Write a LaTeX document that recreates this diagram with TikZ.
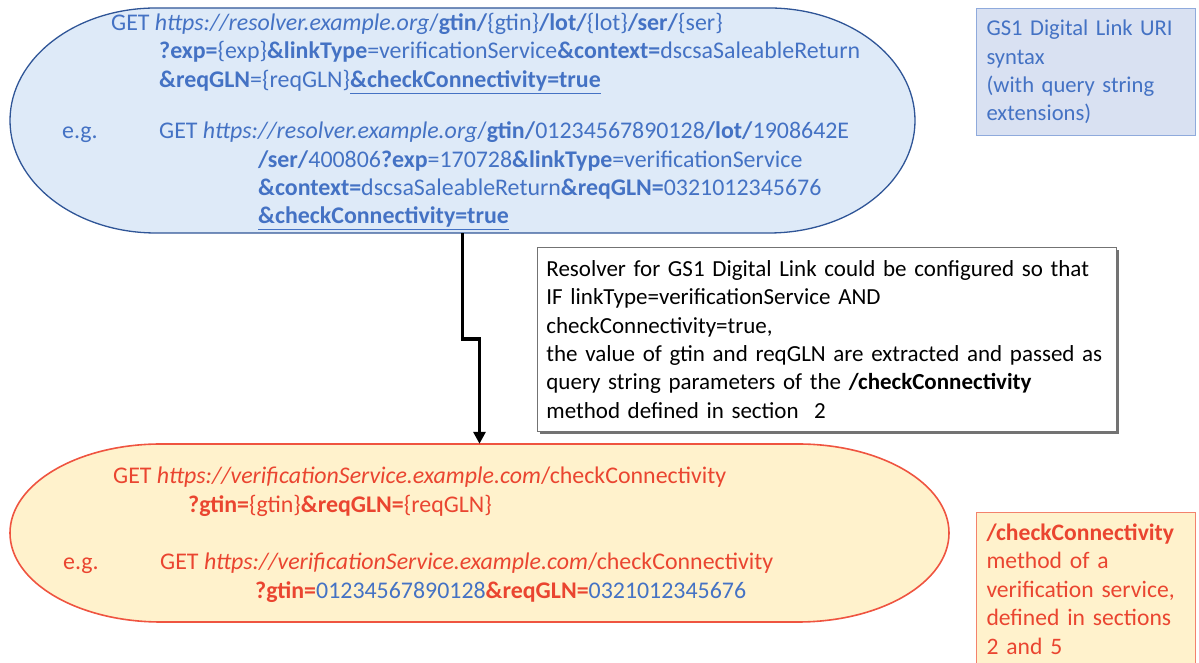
\documentclass[tikz,border=0pt]{standalone}
\usepackage{fontspec}
\setmainfont{Carlito}
\usepackage{tikz}
\usetikzlibrary{arrows.meta}
\usetikzlibrary{shadows}
\definecolor{dlblue}{HTML}{4472C4}
\definecolor{dlfill}{HTML}{DEEAF8}
\definecolor{dlframe}{HTML}{2F5597}
\definecolor{synfill}{HTML}{D9E1F2}
\definecolor{synframe}{HTML}{8FAADC}
\definecolor{svcred}{HTML}{EA4530}
\definecolor{svcfill}{HTML}{FFF2CC}
\definecolor{svcframe}{HTML}{EF5440}
\definecolor{methframe}{HTML}{F3826C}

\begin{document}
\begin{tikzpicture}[x=1pt, y=1pt, font=\fontsize{23.9}{28.4}\selectfont,
	bluecap/.style={draw=dlframe, line width=1.3pt, fill=dlfill},
	svccap/.style={draw=svcframe, line width=1.6pt, fill=svcfill},
	holder/.style={draw=none, inner sep=0pt},
	urltext/.style={anchor=base west, inner sep=0pt, text=dlblue},
	svctext/.style={anchor=base west, inner sep=0pt, text=svcred},
	notebox/.style={draw=black!55, line width=0.8pt, fill=white, align=left, anchor=north west,
		font=\fontsize{23}{28.3}\selectfont,
		drop shadow={shadow xshift=3pt, shadow yshift=-3pt, fill=black!55, opacity=1}},
	synbox/.style={draw=synframe, line width=1pt, fill=synfill, text=dlblue, align=left, anchor=north west,
		font=\fontsize{22.6}{28.4}\selectfont},
	methbox/.style={draw=methframe, line width=1pt, fill=svcfill, text=svcred, align=left, anchor=north west,
		font=\fontsize{23.6}{28.6}\selectfont},
	flowarrow/.style={line width=3.6pt, -{Triangle[length=12pt, width=12pt]}}]
				\useasboundingbox (0,0) rectangle (1199,663);
				% resolver request
				\draw[bluecap] (156,655) -- (769,655) arc[start angle=90, end angle=-90, x radius=146pt, y radius=112.5pt]
					-- (156,430) arc[start angle=270, end angle=90, x radius=146pt, y radius=112.5pt] -- cycle;
				\node[holder, minimum width=905pt, minimum height=225pt] (resolver) at (462.5,542.5) {};
				% verification service call
				\draw[svccap] (161,219) -- (798,219) arc[start angle=90, end angle=-90, x radius=151pt, y radius=89pt]
					-- (161,41) arc[start angle=270, end angle=90, x radius=151pt, y radius=89pt] -- cycle;
				\node[holder, minimum width=939pt, minimum height=178pt] (service) at (479.5,130) {};
				\draw[flowarrow] (resolver.south) -- ++(0,-106) -| (service.north);

				\node[urltext] (syn1) at (111,632) {GET \textit{https://resolver.example.org}/\textbf{gtin/}\{gtin\}\textbf{/lot/}\{lot\}\textbf{/ser/}\{ser\}};
				\node[urltext] (syn2) at (159,604) {\textbf{?exp=}\{exp\}\textbf{\&linkType}=verificationService\textbf{\&context=}dscsaSaleableReturn};
				\node[urltext] (syn3) at (159,575) {\textbf{\&reqGLN}=\{reqGLN\}\underline{\textbf{\&checkConnectivity=true}}};
				\node[urltext] (eg1) at (62,524) {e.g.};
				\node[urltext] (ex1) at (159,524) {GET \textit{https://resolver.example.org}/\textbf{gtin/}01234567890128\textbf{/lot/}1908642E};
				\node[urltext] (ex2) at (258,495) {\textbf{/ser/}400806\textbf{?exp}=170728\textbf{\&linkType}=verificationService};
				\node[urltext] (ex3) at (258,467) {\textbf{\&context=}dscsaSaleableReturn\textbf{\&reqGLN=}0321012345676};
				\node[urltext] (ex4) at (258,439) {\underline{\textbf{\&checkConnectivity=true}}};

				\node[svctext] (call1) at (113,179) {GET \textit{https://verificationService.example.com}/checkConnectivity};
				\node[svctext] (call2) at (188,150) {\textbf{?gtin=}\{gtin\}\textbf{\&reqGLN=}\{reqGLN\}};
				\node[svctext] (eg2) at (63,93) {e.g.};
				\node[svctext] (callex1) at (160,93) {GET \textit{https://verificationService.example.com}/checkConnectivity};
				\node[svctext] (callex2) at (255,64) {\textbf{?gtin=}\textcolor{dlblue}{01234567890128}\textbf{\&reqGLN=}\textcolor{dlblue}{0321012345676}};

				% side notes
				\node[synbox, inner xsep=10pt, text width=199pt, minimum height=127pt] (syntax) at (976,655)
					{GS1 Digital Link URI\\syntax\\(with query string\\extensions)};
				\node[notebox, inner xsep=9pt, text width=561pt, minimum height=184pt] (rule) at (537,416)
					{Resolver for GS1 Digital Link could be configured so that\\IF linkType=verificationService AND\\checkConnectivity=true,\\the value of gtin and reqGLN are extracted and passed as\\query string parameters of the \textbf{/checkConnectivity}\\method defined in section\ \ 2};
				\node[methbox, inner xsep=10pt, inner ysep=11pt, text width=199pt] (method) at (976,151)
					{\textbf{/checkConnectivity}\\method of a\\verification service,\\defined in sections\\2 and 5};
			\end{tikzpicture}
\end{document}
